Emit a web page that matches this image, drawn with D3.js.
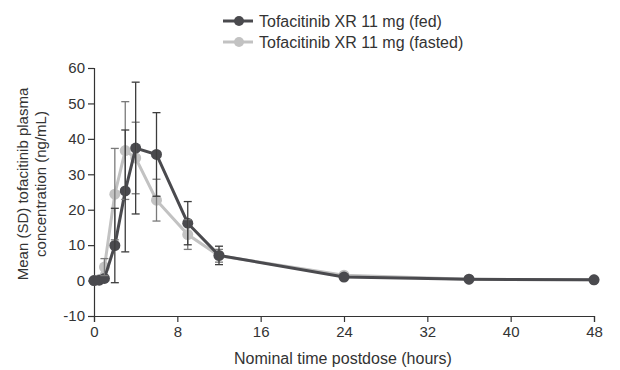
<!DOCTYPE html>
<html lang="en">
<head>
<meta charset="utf-8">
<title>Tofacitinib XR plasma concentration</title>
<script src="https://d3js.org/d3.v7.min.js"></script>
<style>
body { margin: 0; background: #fff; }
text { font-family: "Liberation Sans", Arial, sans-serif; fill: #333; }
</style>
</head>
<body>
<div id="chart"></div>
<script>
// data
var seriesNames = ["Tofacitinib XR 11 mg (fed)", "Tofacitinib XR 11 mg (fasted)"];
var timesFed = [0, 0.5, 1, 2, 3, 4, 6, 9, 12, 24, 36, 48];
var meanFed = [0, 0.1, 0.6, 9.9, 25.3, 37.4, 35.6, 16.2, 7.1, 1.0, 0.4, 0.2];
var sdFed = [0, 0, 0, 10.5, 17.2, 18.6, 11.8, 6.1, 2.6, 0, 0, 0];
var timesFasted = [0, 0.5, 1, 2, 3, 4, 6, 9, 12, 24, 36, 48];
var meanFasted = [0, 0.3, 3.8, 24.4, 36.7, 34.6, 22.7, 13.0, 7.0, 1.5, 0.4, 0.2];
var sdFasted = [0, 0, 2.4, 12.9, 13.8, 10.1, 5.9, 4.2, 1.8, 0, 0, 0];
var xTicks = [0, 8, 16, 24, 32, 40, 48];
var yTicks = [-10, 0, 10, 20, 30, 40, 50, 60];

var W = 620, H = 370;
var margin = {top: 68, right: 26, bottom: 54, left: 94},
    width = W - margin.left - margin.right,
    height = H - margin.top - margin.bottom;

var svg = d3.select("#chart").append("svg")
  .attr("width", W).attr("height", H);
var g = svg.append("g")
  .attr("transform", "translate(" + margin.left + "," + margin.top + ")");

var x = d3.scaleLinear().domain([0, 48]).range([0, width]);
var y = d3.scaleLinear().domain([-10, 60]).range([height, 0]);

var lineColor = ["#4a4a4e", "#c2c2c2"];
var barColor = ["#3c3c3c", "#7a7a7a"];

var data = [
  {name: seriesNames[0], values: timesFed.map(function(t, i) { return {t: t, m: meanFed[i], sd: sdFed[i]}; })},
  {name: seriesNames[1], values: timesFasted.map(function(t, i) { return {t: t, m: meanFasted[i], sd: sdFasted[i]}; })}
];

// axes
var xAxis = g.append("g")
  .attr("transform", "translate(0," + height + ")")
  .call(d3.axisBottom(x).tickValues(xTicks).tickSize(6).tickPadding(4));
var yAxis = g.append("g")
  .call(d3.axisLeft(y).tickValues(yTicks).tickFormat(function(d) { return String(d); })
    .tickSize(6).tickPadding(3));
[xAxis, yAxis].forEach(function(a) {
  a.selectAll("path, line").attr("stroke", "#333").attr("stroke-width", 1.2);
  a.selectAll("text").style("font-size", "15px").style("fill", "#333")
    .style("font-family", "'Liberation Sans', Arial, sans-serif");
});

// draw fasted first so fed sits on top
var order = [1, 0];
var line = d3.line().x(function(d) { return x(d.t); }).y(function(d) { return y(d.m); });

order.forEach(function(k) {
  var s = data[k];
  g.append("path")
    .datum(s.values)
    .attr("d", line)
    .attr("fill", "none")
    .attr("stroke", lineColor[k])
    .attr("stroke-width", 3);
  g.selectAll(".dot" + k)
    .data(s.values)
    .enter().append("circle")
    .attr("cx", function(d) { return x(d.t); })
    .attr("cy", function(d) { return y(d.m); })
    .attr("r", 5.5)
    .attr("fill", lineColor[k]);
});

// error bars
order.forEach(function(k) {
  var s = data[k].values.filter(function(d) { return d.sd > 0; });
  var eb = g.selectAll(".eb" + k).data(s).enter().append("g")
    .attr("stroke", barColor[k]).attr("stroke-width", 1.3);
  eb.append("line")
    .attr("x1", function(d) { return x(d.t); })
    .attr("x2", function(d) { return x(d.t); })
    .attr("y1", function(d) { return y(d.m - d.sd); })
    .attr("y2", function(d) { return y(d.m + d.sd); });
  [-1, 1].forEach(function(sign) {
    eb.append("line")
      .attr("x1", function(d) { return x(d.t) - 4; })
      .attr("x2", function(d) { return x(d.t) + 4; })
      .attr("y1", function(d) { return y(d.m + sign * d.sd); })
      .attr("y2", function(d) { return y(d.m + sign * d.sd); });
  });
});

// axis titles
svg.append("text")
  .attr("x", 343)
  .attr("y", 364)
  .attr("text-anchor", "middle")
  .style("font-size", "16px")
  .text("Nominal time postdose (hours)");

var yt = svg.append("text")
  .attr("transform", "translate(28,184) rotate(-90)")
  .attr("text-anchor", "middle")
  .style("font-size", "15px");
yt.append("tspan").attr("x", 0).attr("dy", 0).text("Mean (SD) tofacitinib plasma");
yt.append("tspan").attr("x", 0).attr("dy", 18).text("concentration (ng/mL)");

// legend
var legend = svg.append("g");
data.forEach(function(s, i) {
  var ly = 21 + i * 21;
  legend.append("line")
    .attr("x1", 223).attr("x2", 253).attr("y1", ly).attr("y2", ly)
    .attr("stroke", lineColor[i]).attr("stroke-width", 3);
  legend.append("circle").attr("cx", 239).attr("cy", ly).attr("r", 5).attr("fill", lineColor[i]);
  legend.append("text").attr("x", 259).attr("y", ly + 6)
    .style("font-size", "16px").text(s.name);
});
</script>
</body>
</html>
